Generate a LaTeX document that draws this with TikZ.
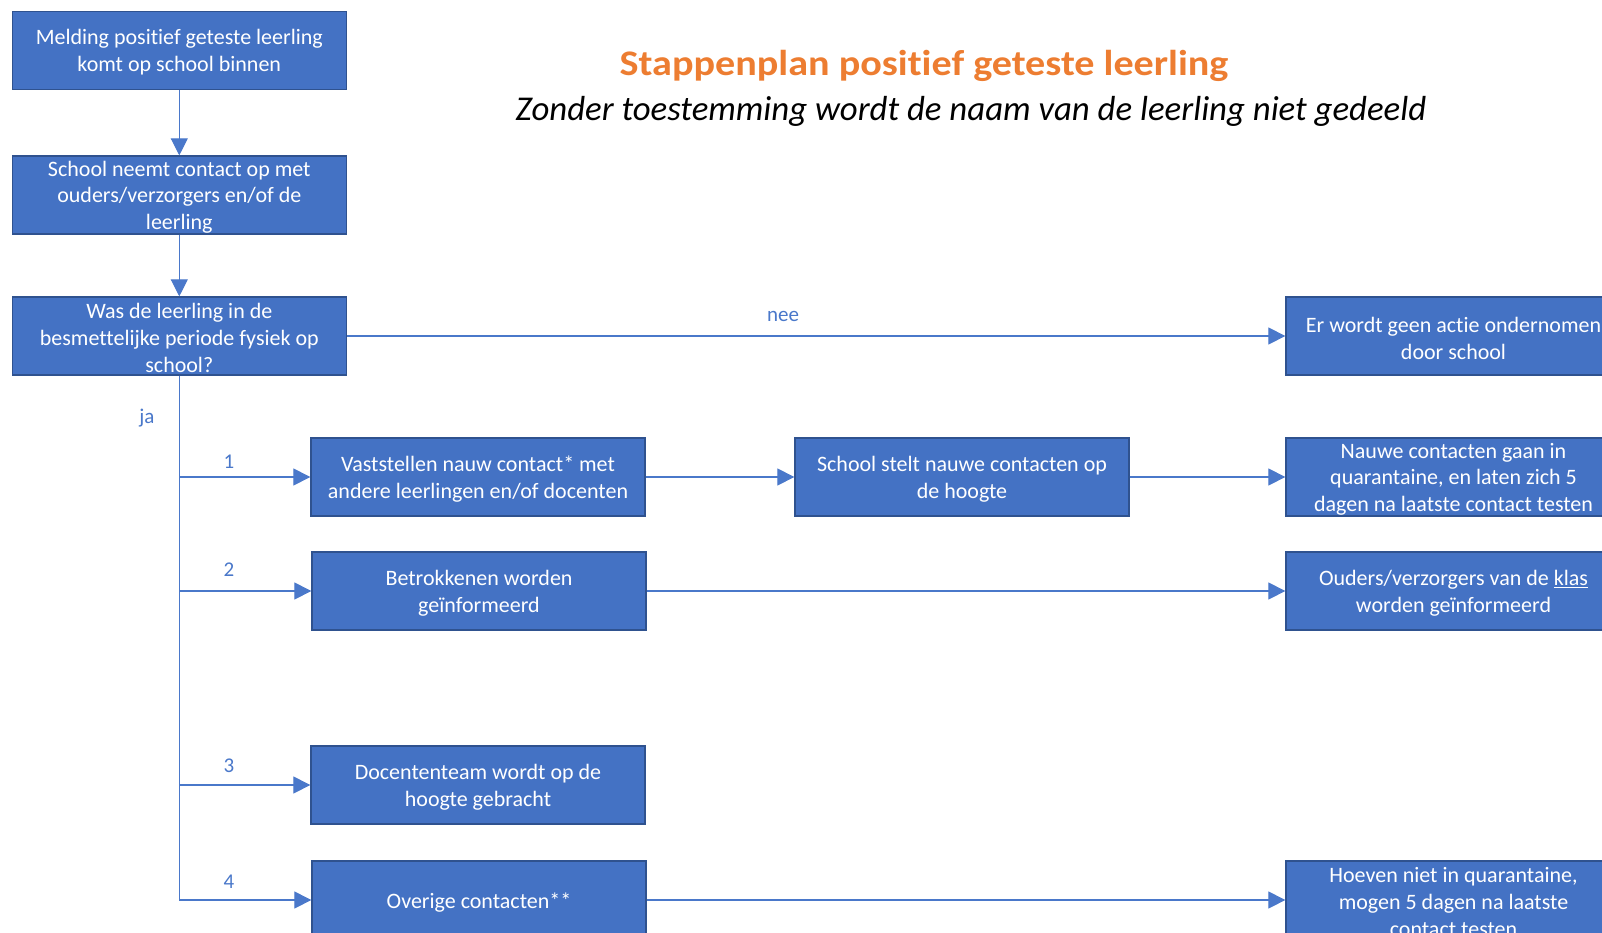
\documentclass[tikz,border=0pt]{standalone}
\usepackage{fontspec}
\usepackage{graphicx}
\setmainfont{Carlito}[Ligatures=NoCommon]
\usetikzlibrary{arrows.meta}
\definecolor{boxfill}{HTML}{4472C4}
\definecolor{boxline}{HTML}{2F528F}
\definecolor{connblue}{HTML}{4A78CA}
\definecolor{titleor}{HTML}{ED7D31}
\begin{document}
\begin{tikzpicture}[x=1pt,y=-1pt,
  stepbox/.style={draw=boxline, line width=1.3pt, fill=boxfill, text=white,
    minimum width=334pt, minimum height=78pt, inner sep=0pt, align=center,
    font=\fontsize{22}{26.8}\selectfont},
  connarrow/.style={draw=connblue, line width=1.1pt, -{Triangle[length=17pt,width=17pt]}},
  connline/.style={draw=connblue, line width=1.1pt},
  lbl/.style={text=connblue, font=\fontsize{21}{24}\selectfont, inner sep=0pt, anchor=base}]
\newcommand{\fs}{\rule{0pt}{19.5pt}}
\useasboundingbox (0,0) rectangle (1602,933);
\clip (0,0) rectangle (1602,933);
\fill[white] (0,0) rectangle (1602,933);

% titles
\node[anchor=base, inner sep=0pt, text=titleor, font=\fontsize{36}{40}\selectfont\bfseries] (title) at (924,76)
  {\scalebox{1.115}[1]{Stappenplan positief geteste leerling}};
\node[anchor=base, inner sep=0pt, font=\fontsize{34.8}{40}\selectfont\itshape] (subtitle) at (971,121)
  {Zonder toestemming wordt de naam van de leerling niet gedeeld};

% left column
\node[stepbox] (A) at (179.3,50.3) {\fs Melding positief geteste leerling\\komt op school binnen};
\node[stepbox] (B) at (179.3,195) {\fs School neemt contact op met\\ouders/verzorgers en/of de\\leerling};
\node[stepbox] (C) at (179.3,336) {\fs Was de leerling in de\\besmettelijke periode fysiek op\\school?};

% right column
\node[stepbox, minimum width=335pt] (E) at (1453.5,336) {\fs Er wordt geen actie ondernomen\\door school};
\node[stepbox, minimum width=335pt] (N) at (1453.5,477) {\fs Nauwe contacten gaan in\\quarantaine, en laten zich 5\\dagen na laatste contact testen};
\node[stepbox, minimum width=335pt] (O) at (1453.5,591) {\fs Ouders/verzorgers van de \underline{klas}\\worden geïnformeerd};
\node[stepbox, minimum width=335pt] (H) at (1453.5,900) {\fs Hoeven niet in quarantaine,\\mogen 5 dagen na laatste\\contact testen};

% middle
\node[stepbox] (V) at (478,477) {\fs Vaststellen nauw contact* met\\andere leerlingen en/of docenten};
\node[stepbox] (S) at (962,477) {\fs School stelt nauwe contacten op\\de hoogte};
\node[stepbox] (Bt) at (479,591) {\fs Betrokkenen worden\\geïnformeerd};
\node[stepbox] (D) at (478,785) {\fs Docententeam wordt op de\\hoogte gebracht};
\node[stepbox] (Ov) at (479,900) {\rule{0pt}{20pt}Overige contacten**};

% connectors
\draw[connarrow] (A.south) -- (B.north);
\draw[connarrow] (B.south) -- (C.north);
\draw[connarrow] (C.east) -- (E.west);
\coordinate (t1) at (C.south |- V.west);
\coordinate (t2) at (C.south |- Bt.west);
\coordinate (t3) at (C.south |- D.west);
\coordinate (t4) at (C.south |- Ov.west);
\draw[connline] (C.south) -- (t4);
\draw[connarrow] (t1) -- (V.west);
\draw[connarrow] (t2) -- (Bt.west);
\draw[connarrow] (t3) -- (D.west);
\draw[connarrow] (t4) -- (Ov.west);
\draw[connarrow] (V.east) -- (S.west);
\draw[connarrow] (S.east) -- (N.west);
\draw[connarrow] (Bt.east) -- (O.west);
\draw[connarrow] (Ov.east) -- (H.west);

% labels
\node[lbl] (nee) at (783,321) {nee};
\node[lbl] (ja) at (147,423) {ja};
\node[lbl] (l1) at (229,468) {1};
\node[lbl] (l2) at (229,576) {2};
\node[lbl] (l3) at (229,772) {3};
\node[lbl] (l4) at (229,888) {4};
\end{tikzpicture}
\end{document}
